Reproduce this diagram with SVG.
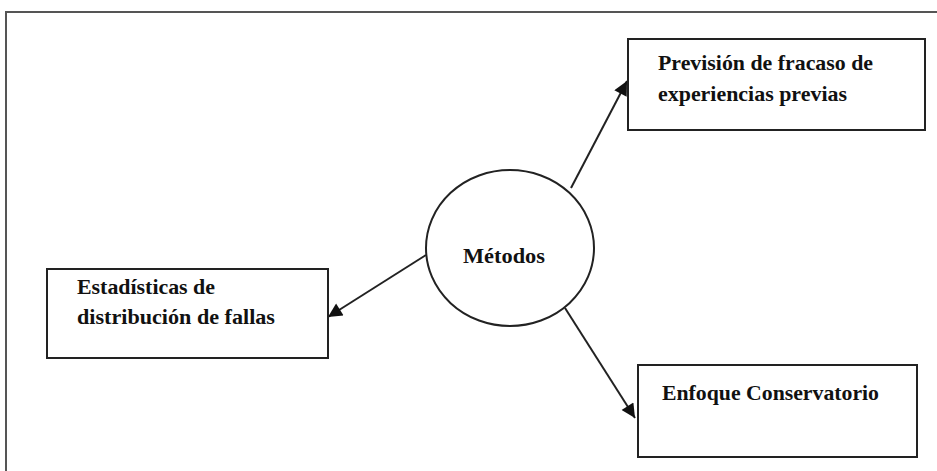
<svg xmlns="http://www.w3.org/2000/svg" width="937" height="471" viewBox="0 0 937 471">
  <style>
    .frame { fill: none; stroke: #555; stroke-width: 2; }
    .box { fill: #fff; stroke: #222; stroke-width: 2; }
    .hub { fill: #fff; stroke: #222; stroke-width: 2; }
    .edge { fill: none; stroke: #222; stroke-width: 2; marker-end: url(#arrow); }
    .label { font-family: "Liberation Serif", "Times New Roman", serif; font-weight: bold; font-size: 21px; fill: #111; }
    .hub-label { font-family: "Liberation Serif", "Times New Roman", serif; font-weight: bold; font-size: 22px; fill: #111; }
  </style>
  <defs>
    <marker id="arrow" viewBox="0 0 10 10" refX="10" refY="5" markerWidth="8.5" markerHeight="7" markerUnits="strokeWidth" orient="auto">
      <path d="M0,0 L10,5 L0,10 Z" fill="#111"/>
    </marker>
  </defs>

  <rect width="937" height="471" fill="#fff"/>
  <!-- outer frame: only top and left edges -->
  <path class="frame" d="M6,471 V12 H937"/>

  <g id="connectors">
    <line class="edge" x1="571" y1="188" x2="627" y2="81"/>
    <line class="edge" x1="426" y1="255" x2="328" y2="317"/>
    <line class="edge" x1="565" y1="308" x2="635" y2="418"/>
  </g>

  <g id="metodos">
    <ellipse class="hub" cx="510" cy="248" rx="84" ry="78"/>
    <text class="hub-label" x="463" y="263" textLength="82" lengthAdjust="spacingAndGlyphs">Métodos</text>
  </g>

  <g id="prevision">
    <rect class="box" x="628" y="39" width="297" height="91"/>
    <text class="label" x="658" y="70" textLength="215" lengthAdjust="spacingAndGlyphs">Previsión de fracaso de</text>
    <text class="label" x="658" y="101" textLength="189" lengthAdjust="spacingAndGlyphs">experiencias previas</text>
  </g>

  <g id="estadisticas">
    <rect class="box" x="47" y="269" width="281" height="89"/>
    <text class="label" x="77" y="294" textLength="138" lengthAdjust="spacingAndGlyphs">Estadísticas de</text>
    <text class="label" x="77" y="324" textLength="198" lengthAdjust="spacingAndGlyphs">distribución de fallas</text>
  </g>

  <g id="enfoque">
    <rect class="box" x="638" y="365" width="279" height="92"/>
    <text class="label" x="662" y="400" textLength="217" lengthAdjust="spacingAndGlyphs">Enfoque Conservatorio</text>
  </g>
</svg>
